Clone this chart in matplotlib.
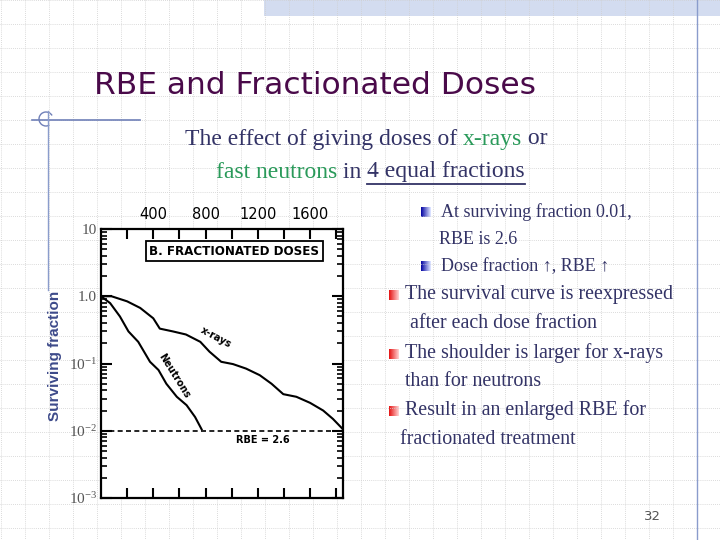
import numpy as np
import matplotlib
matplotlib.use("Agg")
import matplotlib.pyplot as plt
from matplotlib.patches import Rectangle, Arc

plt.rcParams['mathtext.fontset'] = 'custom'
plt.rcParams['mathtext.rm'] = 'Liberation Serif'

# dose (rads) vs surviving fraction
xray_dose = [0, 80, 200, 300, 400, 450, 550, 650, 760, 830, 920, 1010, 1110,
             1215, 1305, 1395, 1495, 1600, 1700, 1775, 1850]
xray_sf = [1.0, 1.0, 0.84, 0.67, 0.47, 0.33, 0.30, 0.27, 0.21, 0.15, 0.106,
           0.098, 0.084, 0.067, 0.05, 0.035, 0.032, 0.026, 0.02, 0.015, 0.0106]

neutron_dose = [0, 70, 145, 210, 285, 375, 440, 500, 580, 655, 720, 770]
neutron_sf = [1.0, 0.79, 0.5, 0.30, 0.21, 0.106, 0.08, 0.05, 0.032, 0.024,
              0.016, 0.0105]

rbe_level = 0.01
ytick_vals = [1e-3, 1e-2, 1e-1, 1.0, 10]
ytick_labels = ['$\\mathrm{10^{-3}}$', '$\\mathrm{10^{-2}}$', '$\\mathrm{10^{-1}}$', '1.0', '10']
top_ticks = [200, 400, 600, 800, 1000, 1200, 1400, 1600, 1800]

navy = '#333366'
green = '#2a9a5a'
serif = ['Liberation Serif', 'DejaVu Serif']

fig = plt.figure(figsize=(7.2, 5.4), dpi=100)

# slide background in pixel coordinates
bg = fig.add_axes([0, 0, 1, 1], zorder=-1)
bg.set_xlim(0, 720)
bg.set_ylim(540, 0)
bg.axis('off')
for gx in range(1, 720, 24):
    bg.plot([gx, gx], [0, 540], color='#cfcfcf', lw=0.6, ls=(0, (1, 1.5)))
for gy in range(0, 540, 24):
    bg.plot([0, 720], [gy, gy], color='#cfcfcf', lw=0.6, ls=(0, (1, 1.5)))
bg.add_patch(Rectangle((264, 0), 456, 16, facecolor='#d3dcf0', edgecolor='none'))
bg.plot([697, 697], [0, 540], color='#8a9ccc', lw=1)
bg.plot([32, 140], [120, 120], color='#7080b8', lw=1.2)
bg.plot([48, 48], [111, 290], color='#8a9ccc', lw=1)
bg.add_patch(Arc((46, 119), 14, 14, theta1=60, theta2=330, color='#7080b8', lw=1))

bg.text(315, 85, 'RBE and Fractionated Doses', color='#4a0a4a', fontsize=22.5,
        family='DejaVu Sans', ha='center', va='center')

renderer = fig.canvas.get_renderer()


def put_runs(x, y, parts, size):
    for s, color, under in parts:
        t = bg.text(x, y, s, color=color, fontsize=size, family=serif,
                    ha='left', va='center')
        bb = t.get_window_extent(renderer=renderer)
        if under:
            bg.plot([x, x + bb.width], [y + 12, y + 12], color=color, lw=1.3)
        x += bb.width


put_runs(185, 139, [('The effect of giving doses of ', navy, False),
                    ('x-rays', green, False), (' or', navy, False)], 17)
put_runs(216, 172, [('fast neutrons', green, False), (' in ', navy, False),
                    ('4 equal fractions', navy, True)], 17)


def bullet(x, y, c1, c2):
    n = 10
    for i in range(n):
        col = np.array(c1) + (np.array(c2) - np.array(c1)) * i / (n - 1)
        bg.add_patch(Rectangle((x - 5 + i * 10 / n, y - 5), 10 / n + 0.2, 10,
                               facecolor=col, edgecolor='none'))


blue1, blue2 = (0.05, 0.05, 0.65), (0.85, 0.88, 1.0)
red1, red2 = (0.9, 0.1, 0.1), (1.0, 0.8, 0.8)
bullet(426, 212, blue1, blue2)
bullet(426, 266, blue1, blue2)
for by in [295, 354, 411]:
    bullet(394, by, red1, red2)

small = [(441, 212, 'At surviving fraction 0.01,'), (439, 239, 'RBE is 2.6'),
         (441, 267, 'Dose fraction \u2191, RBE \u2191')]
for x, y, s in small:
    bg.text(x, y, s, color=navy, fontsize=13, family=serif, va='center')
big = [(405, 295, 'The survival curve is reexpressed'),
       (410, 324, 'after each dose fraction'),
       (405, 353, 'The shoulder is larger for x-rays'),
       (405, 381, 'than for neutrons'),
       (405, 410, 'Result in an enlarged RBE for'),
       (400, 439, 'fractionated treatment')]
for x, y, s in big:
    bg.text(x, y, s, color=navy, fontsize=14.4, family=serif, va='center')

bg.text(652, 516, '32', color='#555555', fontsize=9.5, ha='center', va='center')

fig.text(55 / 720, 1 - 356 / 540, 'Surviving fraction', rotation=90,
         color='#3d4a8a', fontsize=11, fontweight='bold', family='Liberation Sans',
         ha='center', va='center')

# the chart itself
ax = fig.add_axes([101 / 720, 1 - 498 / 540, 242 / 720, 269 / 540])
ax.set_facecolor('white')
ax.plot(xray_dose, xray_sf, color='black', lw=1.5)
ax.plot(neutron_dose, neutron_sf, color='black', lw=1.5)
ax.axhline(rbe_level, color='black', lw=1.2, ls=(0, (3, 2)))
ax.set_yscale('log')
ax.set_ylim(1e-3, 10)
ax.set_xlim(0, 1852)

ax.set_yticks(ytick_vals)
ax.set_yticklabels(ytick_labels, family=serif, color='#555555', fontsize=11)
ax.yaxis.set_minor_locator(matplotlib.ticker.LogLocator(base=10, subs=np.arange(2, 10)))
ax.yaxis.set_minor_formatter(matplotlib.ticker.NullFormatter())
ax.tick_params(axis='y', which='major', direction='in', length=8, width=1.5,
               right=True, pad=3)
ax.tick_params(axis='y', which='minor', direction='in', length=4, width=1.2, right=True)

ax.set_xticks(top_ticks)
ax.set_xticklabels([str(v) if v % 400 == 0 else '' for v in top_ticks])
ax.tick_params(axis='x', direction='in', length=7, width=1.5, top=True,
               labeltop=True, labelbottom=False, labelsize=10.5, pad=5)
for sp in ax.spines.values():
    sp.set_linewidth(1.6)

ax.text(1020, 4.7, 'B. FRACTIONATED DOSES', fontsize=8.6, fontweight='bold',
        ha='center', va='center', family='DejaVu Sans',
        bbox=dict(boxstyle='square,pad=0.3', facecolor='white', edgecolor='black', lw=1.3))
ax.text(1240, 0.0072, 'RBE = 2.6', fontsize=7, fontweight='bold', ha='center', va='center')
ax.text(880, 0.24, 'x-rays', fontsize=7, fontweight='bold', rotation=-28,
        ha='center', va='center')
ax.text(560, 0.065, 'Neutrons', fontsize=7, fontweight='bold', rotation=-58,
        ha='center', va='center')

fig.savefig('out.png', dpi=100)
